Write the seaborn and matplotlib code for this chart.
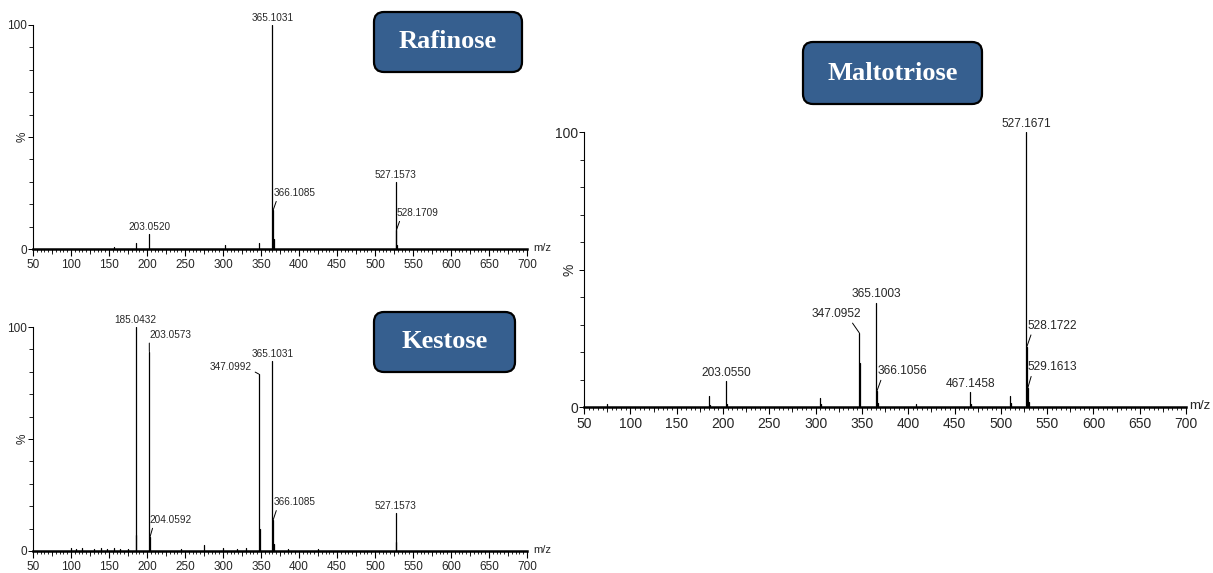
import numpy as np
import pandas as pd
import matplotlib
matplotlib.use("Agg")
import matplotlib.pyplot as plt
from matplotlib.patches import FancyBboxPatch
from matplotlib.ticker import MultipleLocator, FixedLocator
import seaborn as sns

# ---------------- data ----------------
raf_mz = [157.0, 185.0, 203.0520, 303.0, 347.0, 365.1031, 366.1085, 367.1, 527.1573, 528.1709, 529.16]
raf_int = [1.0, 2.5, 6.5, 1.8, 2.5, 100.0, 17.5, 4.5, 30.0, 8.5, 2.0]
raf_labels = [203.0520, 365.1031, 366.1085, 527.1573, 528.1709]

kes_mz = [100.0, 107.0, 115.0, 130.0, 140.0, 147.0, 157.0, 165.0, 175.0, 185.0432, 186.05,
          203.0573, 204.0592, 245.0, 275.0, 300.0, 318.0, 330.0, 347.0992, 348.1,
          365.1031, 366.1085, 367.1, 385.0, 425.0, 527.1573, 528.16]
kes_int = [1.2, 1.0, 1.5, 1.0, 1.2, 1.0, 1.5, 1.0, 1.0, 100.0, 7.0,
           89.0, 6.4, 1.0, 2.5, 1.5, 1.0, 1.2, 79.0, 10.0,
           85.0, 14.0, 3.0, 0.8, 1.0, 17.0, 4.0]
kes_labels = [185.0432, 203.0573, 204.0592, 347.0992, 365.1031, 366.1085, 527.1573]

mal_mz = [75.0, 185.0, 186.0, 203.0550, 204.06, 305.0, 306.0, 347.0952, 348.1, 365.1003,
          366.1056, 367.1, 408.0, 467.1458, 468.15, 510.0, 511.0, 527.1671, 528.1722,
          529.1613, 530.17]
mal_int = [1.0, 4.1, 0.8, 9.3, 1.0, 3.3, 1.0, 27.0, 16.0, 38.0,
           5.7, 1.5, 1.2, 5.4, 1.2, 4.1, 1.5, 100.0, 22.0,
           7.0, 2.0]
mal_labels = [203.0550, 347.0952, 365.1003, 366.1056, 467.1458, 527.1671, 528.1722, 529.1613]

x_ticks = list(range(50, 701, 50))
titles = ["Rafinose", "Kestose", "Maltotriose"]

# ---------------- style ----------------
sns.set_theme(style="white")
plt.rcParams["font.family"] = ["Liberation Sans Narrow", "Liberation Sans", "DejaVu Sans"]

fig = plt.figure(figsize=(12.13, 5.73), dpi=100)

ax_raf = fig.add_axes([0.0272, 0.5654, 0.4073, 0.3910])
ax_kes = fig.add_axes([0.0272, 0.0384, 0.4073, 0.3909])
ax_mal = fig.add_axes([0.4815, 0.2897, 0.4963, 0.4799])

raf_layout = {366.1085: (366.0, 22.7, "left", "bottom", (0.1, 0.0)),
              528.1709: (528.3, 13.8, "left", "bottom", (0.1, 0.0))}
kes_layout = {203.0573: (203.0, 94.3, "left", "bottom", (0.0, 0.0)),
              204.0592: (203.0, 11.6, "left", "bottom", (0.1, 0.0)),
              347.0992: (338.0, 82.0, "right", "center", (1.0, 0.2)),
              366.1085: (366.0, 19.5, "left", "bottom", (0.1, 0.0))}
mal_layout = {347.0952: (322.4, 31.7, "center", "bottom", (0.78, 0.0)),
              366.1056: (366.4, 10.9, "left", "bottom", (0.1, 0.0)),
              528.1722: (528.4, 27.4, "left", "bottom", (0.1, 0.0)),
              529.1613: (528.4, 12.3, "left", "bottom", (0.1, 0.0))}


def draw_panel(ax, mz, inten, labels, layout, tick_fs, lab_fs, pct_off, mz_off):
    rows = []
    for i, (m, h) in enumerate(zip(mz, inten)):
        rows.append((m, 0.0, i))
        rows.append((m, h, i))
    df = pd.DataFrame(rows, columns=["mz", "pct", "peak"])
    sns.lineplot(data=df, x="mz", y="pct", units="peak", estimator=None, sort=False,
                 color="black", lw=0.9, ax=ax, legend=False)
    ax.set_xlim(50, 700)
    ax.set_ylim(0, 100)
    ax.set_xlabel("")
    ax.set_ylabel("")
    sns.despine(ax=ax, top=True, right=True)
    ax.spines["left"].set_linewidth(0.8)
    ax.spines["bottom"].set_linewidth(1.8)
    ax.spines["left"].set_color("black")
    ax.spines["bottom"].set_color("black")

    ax.xaxis.set_major_locator(FixedLocator(x_ticks))
    ax.xaxis.set_minor_locator(MultipleLocator(5))
    ax.tick_params(axis="x", which="major", direction="out", length=5, width=0.8,
                   color="black", labelsize=tick_fs, pad=2, bottom=True)
    ax.tick_params(axis="x", which="minor", direction="out", length=2.2, width=0.6,
                   color="black", bottom=True)
    ax.set_xticklabels([str(t) for t in x_ticks])

    ax.yaxis.set_major_locator(FixedLocator([0, 50, 100]))
    ax.yaxis.set_minor_locator(MultipleLocator(10))
    ax.set_yticklabels(["0", "", "100"])
    ax.tick_params(axis="y", which="major", direction="out", length=3.5, width=0.7,
                   color="black", labelsize=tick_fs, pad=1, left=True)
    ax.tick_params(axis="y", which="minor", direction="out", length=3, width=0.6,
                   color="black", left=True)

    sec = ax.secondary_xaxis("bottom")
    sec.xaxis.set_major_locator(FixedLocator([t + 25 for t in x_ticks[:-1]]))
    sec.tick_params(axis="x", length=3.5, width=0.6, color="black", labelbottom=False)
    sec.spines["bottom"].set_visible(False)

    ax.text(pct_off, 50, "%", rotation=90, ha="center", va="center",
            fontsize=tick_fs, transform=ax.get_yaxis_transform())
    ax.annotate("m/z", xy=(700, 0), xytext=(mz_off, 1), textcoords="offset points",
                ha="left", va="center", fontsize=tick_fs - 0.5, annotation_clip=False)

    heights = dict(zip(mz, inten))
    for m in labels:
        h = heights[m]
        txt = f"{m:.4f}"
        if m in layout:
            tx, ty, ha, va, rp = layout[m]
            ax.annotate(txt, xy=(m, h), xytext=(tx, ty), textcoords="data",
                        ha=ha, va=va, fontsize=lab_fs, annotation_clip=False,
                        arrowprops=dict(arrowstyle="-", lw=0.7, color="black",
                                        shrinkA=0, shrinkB=0, relpos=rp))
        else:
            ax.annotate(txt, xy=(m, h), xytext=(0, 1.5), textcoords="offset points",
                        ha="center", va="bottom", fontsize=lab_fs,
                        annotation_clip=False)


draw_panel(ax_raf, raf_mz, raf_int, raf_labels, raf_layout, 8.5, 7.2, -0.021, 4.5)
draw_panel(ax_kes, kes_mz, kes_int, kes_labels, kes_layout, 8.5, 7.2, -0.021, 4.5)
draw_panel(ax_mal, mal_mz, mal_int, mal_labels, mal_layout, 10, 8.6, -0.025, 2.5)

H = 5.73
boxes = [(3.74, H - 0.72, 1.48, 0.60, titles[0]),
         (3.74, H - 3.72, 1.41, 0.60, titles[1]),
         (8.03, H - 1.04, 1.79, 0.62, titles[2])]
for x, y, w, h, t in boxes:
    p = FancyBboxPatch((x, y), w, h, boxstyle="round,pad=0,rounding_size=0.1",
                       transform=fig.dpi_scale_trans, facecolor="#365F8F",
                       edgecolor="black", lw=1.6)
    fig.add_artist(p)
    fig.text(x + w / 2, y + h / 2, t, transform=fig.dpi_scale_trans,
             ha="center", va="center", color="white", fontsize=19,
             fontweight="bold", family=["Liberation Serif", "DejaVu Serif"])

fig.savefig("out.png", dpi=100)
